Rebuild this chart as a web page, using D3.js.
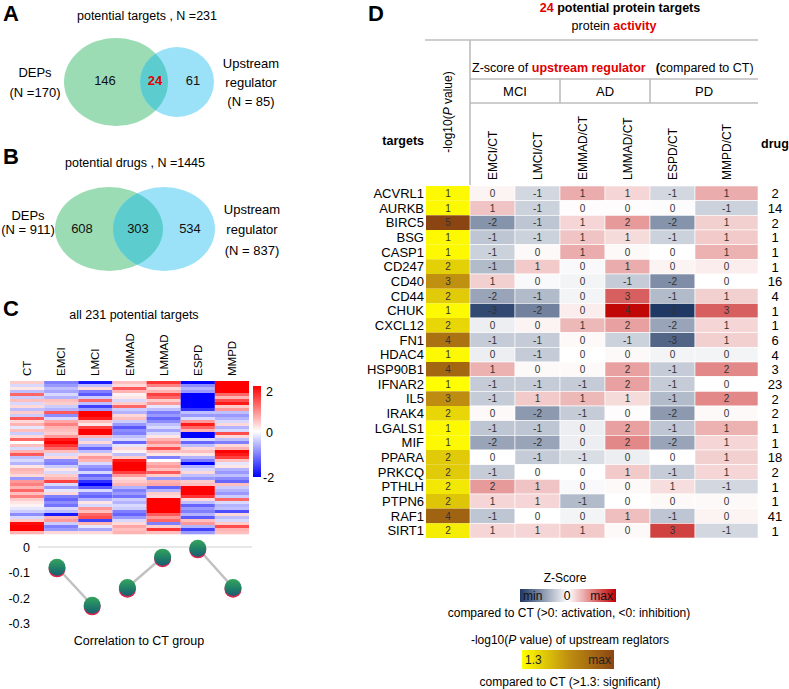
<!DOCTYPE html>
<html>
<head>
<meta charset="utf-8">
<script src="https://cdnjs.cloudflare.com/ajax/libs/d3/7.8.5/d3.min.js"></script>
<style>
  body { margin: 0; background: #fff; }
  svg { font-family: "Liberation Sans", Arial, Helvetica, sans-serif; }
</style>
</head>
<body>
<svg id="chart" width="789" height="689"></svg>
<script>
// ---------- data ----------
const targetVenn = [146, 24, 61];      // DEPs only, shared, upstream only
const targetVennN = [231, 170, 85];    // total, DEPs, upstream regulator
const drugVenn = [608, 303, 534];
const drugVennN = [1445, 911, 837];

const heatGroups = ['CT', 'EMCI', 'LMCI', 'EMMAD', 'LMMAD', 'ESPD', 'MMPD'];
// 231 targets drawn as 51 row bands, z-score per band
const heatCT = [0.4, -0.3, 0.2, -0.5, 1.2, -0.4, 0.5, -0.3, 0.3, -0.5, 0.4, -0.4, 1.3, 0.3, 0.6, -0.2, 0.5,
  -0.4, 0.3, 1.2, 0.0, 0.5, -0.3, 0.6, 1.3, -0.5, -0.3, -0.6, 0.2, 0.6, 0.5, 0.3, -0.8, 0.8,
  1.0, 0.6, 1.2, 0.5, 1.0, 0.4, 0.2, 0.1, -0.2, -0.4, -0.9, -0.3, 0.4, 1.9, 2.2, 2.0, 0.6];
const heatEMCI = [-1.0, -0.8, -0.5, -0.7, -0.3, -0.6, 0.5, 0.4, -0.4, -0.6, 1.3, -0.9, -0.3, 0.7, 1.0, 0.6, 0.5,
  0.4, 0.8, 1.8, 2.0, 1.6, 1.2, 0.5, -0.3, 0.3, -0.9, -1.0, -0.4, 0.2, -0.3, 0.4, 0.6, 1.5,
  -0.3, -0.8, -0.2, 0.3, -1.0, -1.2, -0.9, -1.1, -0.3, -0.5, -1.8, 0.6, 0.8, -0.4, -1.0, -0.8, 0.3];
const heatLMCI = [-1.8, -0.5, 0.3, -1.0, -1.3, -0.4, 1.2, -0.5, -1.5, -0.8, 2.2, 2.3, 1.8, 0.5, 0.2, 1.5, 2.0,
  2.3, 0.6, -0.4, 0.3, -0.6, -1.2, -0.5, 0.3, 0.8, 0.6, -0.3, -0.8, -1.0, -0.3, -1.2, -0.9, -1.6,
  -2.0, -1.3, -0.3, -1.0, -1.2, -0.6, 0.2, -0.3, 0.8, 0.5, 1.2, 1.4, -1.5, 0.6, -0.2, -0.7, 0.3];
const heatEMMAD = [0.5, 0.3, 1.3, 0.6, 0.1, 0.2, -0.3, 0.4, 1.2, -0.4, -0.6, 0.3, 0.5, -0.4, -0.8, -1.3, -0.9,
  -1.0, -0.5, -0.3, -1.2, -0.2, 0.3, 0.1, -0.5, 0.4, 1.8, 2.2, 2.0, 2.3, 1.5, 0.8, 0.3, 0.4,
  0.6, -0.6, -1.0, -0.8, -1.1, -0.4, -0.6, -0.3, -0.4, -1.0, -1.2, -0.8, -0.3, 0.3, 0.7, 0.5, 0.6];
const heatLMMAD = [1.6, 1.0, 0.3, 0.6, 1.5, 1.2, 0.4, 0.8, -0.2, -0.5, -1.0, -0.8, -1.2, -0.9, -0.5, -0.3, -0.7,
  -0.3, 0.2, 0.6, 0.9, 0.5, 1.4, 0.5, 0.2, -1.0, 0.0, 0.6, 0.8, 0.5, 1.3, 0.4, -0.8, 0.6,
  0.7, -1.2, -0.6, 0.4, 0.3, 2.2, 2.4, 2.3, 2.2, 2.0, 1.3, 0.8, 1.2, -1.0, 0.4, 1.6, 0.5];
const heatESPD = [-2.2, -0.9, -0.6, -0.8, -2.0, -2.4, -2.2, -2.5, -2.3, -1.6, -0.5, -0.8, -0.3, 0.8, 1.8, 1.2, 0.6,
  -2.4, -2.2, -0.3, -1.2, -0.5, 0.3, 0.5, 0.2, -0.6, -1.0, -2.5, -0.6, -0.3, 0.3, -0.5, -0.8, 0.4,
  0.5, 2.0, 2.3, 2.2, 1.6, 0.3, -0.5, -1.2, -0.8, -1.0, -0.6, -1.3, 0.5, 0.8, -0.6, -1.5, -0.8];
const heatMMPD = [2.3, 2.5, 2.4, 2.0, 1.2, 0.6, 1.4, 1.8, 0.4, 0.8, -0.5, -0.8, -0.6, -0.3, 0.3, -0.6, -0.3,
  1.4, 0.3, -0.5, -1.0, 0.3, 0.6, 2.0, 1.8, 1.5, 0.5, -0.2, 0.2, -0.6, -0.8, -0.5, -0.9, -1.2,
  0.5, -0.4, -0.6, -0.8, -0.4, 1.2, -0.3, -0.6, -0.5, -1.4, 0.3, -0.5, -0.3, 0.4, 1.4, 0.6, 0.5];
const heatColumns = [heatCT, heatEMCI, heatLMCI, heatEMMAD, heatLMMAD, heatESPD, heatMMPD];

const corrGroups = ['EMCI', 'LMCI', 'EMMAD', 'LMMAD', 'ESPD', 'MMPD'];
const corrValues = [-0.08, -0.23, -0.16, -0.04, -0.005, -0.16];
const corrTicks = [0, -0.1, -0.2, -0.3];

const targets = ['ACVRL1', 'AURKB', 'BIRC5', 'BSG', 'CASP1', 'CD247', 'CD40', 'CD44', 'CHUK', 'CXCL12',
  'FN1', 'HDAC4', 'HSP90B1', 'IFNAR2', 'IL5', 'IRAK4', 'LGALS1', 'MIF', 'PPARA', 'PRKCQ', 'PTHLH',
  'PTPN6', 'RAF1', 'SIRT1'];
const pValues = [1.4, 1.4, 5.2, 1.4, 1.4, 2.1, 3.2, 2.2, 1.4, 2.0, 4.0, 1.4, 4.3, 1.3, 3.3, 2.0, 1.4, 1.4,
  2.2, 2.2, 1.7, 2.3, 4.4, 1.6];
const drugCounts = [2, 14, 2, 1, 1, 1, 16, 4, 1, 1, 6, 4, 3, 23, 2, 2, 1, 1, 18, 2, 1, 1, 41, 1];
const zCols = ['EMCI/CT', 'LMCI/CT', 'EMMAD/CT', 'LMMAD/CT', 'ESPD/CT', 'MMPD/CT'];
const zGroups = ['MCI', 'AD', 'PD'];
const zEMCI = [0.2, 1.0, -1.9, -1.0, -0.8, -1.2, 0.8, -1.6, -3.2, -0.3, -0.9, -0.3, 1.3, -0.9, -0.9, 0.1,
  -1.0, -1.6, 0.0, -0.9, 1.7, 0.7, -1.0, 0.7];
const zLMCI = [-0.7, -0.8, -1.0, -0.8, 0.1, 0.9, -0.1, -1.2, -2.2, 0.2, -0.9, -0.9, 0.1, -0.9, 0.9, -1.8,
  -1.0, -1.6, -0.9, 0.0, 1.0, 0.7, 0.0, 0.7];
const zEMMAD = [1.4, 0.05, 0.7, 1.0, 1.4, -0.1, -0.2, -0.2, 0.3, 1.2, 0.1, 0.0, 0.1, -0.9, 1.2, -0.9,
  -0.3, -0.3, -0.6, 0.0, -0.1, -1.2, -0.2, 0.9];
const zLMMAD = [0.7, 0.05, 1.7, 0.6, 0.1, 1.4, -0.9, 2.7, 4.2, 1.6, -0.8, 0.1, 1.6, 1.6, 0.6, 0.05,
  1.6, 2.0, -0.3, 0.9, 0.1, 0.0, 1.1, 0.1];
const zESPD = [-0.7, -0.05, -1.9, -0.8, 0.0, 0.2, -2.0, -1.2, -3.5, -1.6, -2.7, -0.2, -0.9, -0.9, -1.2, -1.8,
  -1.0, -1.6, 0.0, -0.9, 0.55, 0.1, -1.0, 3.2];
const zMMPD = [1.4, -0.8, 0.8, 0.9, 1.3, 0.3, 0.0, 0.8, 2.7, 0.7, 0.8, -0.2, 2.0, 0.0, 2.0, 0.1,
  1.3, 0.7, 0.8, 0.7, -0.7, 0.1, 0.2, -0.7];
const zColumns = [zEMCI, zLMCI, zEMMAD, zLMMAD, zESPD, zMMPD];

// ---------- drawing ----------
const svg = d3.select('#chart');
const defs = svg.append('defs');
const RED = '#e00000';

function panelLetter(x, y, t) {
  svg.append('text').attr('x', x).attr('y', y)
    .style('font-size', '22px').style('font-weight', 'bold').text(t);
}

// ===== A and B : Venn diagrams =====
function venn(id, cfg, counts, totals, title, highlight) {
  const g = svg.append('g');
  g.append('text').attr('x', cfg.titleX).attr('y', cfg.titleY).attr('text-anchor', 'middle')
    .style('font-size', '12.5px').text(`${title} , N =${totals[0]}`);

  defs.append('clipPath').attr('id', 'clip' + id)
    .append('ellipse').attr('cx', cfg.l[0]).attr('cy', cfg.l[1]).attr('rx', cfg.l[2]).attr('ry', cfg.l[3]);

  g.append('ellipse').attr('cx', cfg.l[0]).attr('cy', cfg.l[1]).attr('rx', cfg.l[2]).attr('ry', cfg.l[3])
    .attr('fill', '#9cdcb4');
  g.append('ellipse').attr('cx', cfg.r[0]).attr('cy', cfg.r[1]).attr('rx', cfg.r[2]).attr('ry', cfg.r[3])
    .attr('fill', '#9be2f9');
  g.append('ellipse').attr('cx', cfg.r[0]).attr('cy', cfg.r[1]).attr('rx', cfg.r[2]).attr('ry', cfg.r[3])
    .attr('fill', '#5ccccf').attr('clip-path', `url(#clip${id})`);

  g.selectAll('text.num').data(counts).join('text').attr('class', 'num')
    .attr('x', (d, i) => cfg.numX[i]).attr('y', cfg.numY).attr('text-anchor', 'middle')
    .style('font-size', '13px')
    .style('font-weight', (d, i) => i === 1 && highlight ? 'bold' : null)
    .attr('fill', (d, i) => i === 1 && highlight ? RED : '#111')
    .text(d => d);

  g.append('text').attr('x', cfg.leftX).attr('y', cfg.leftY[0]).attr('text-anchor', 'middle')
    .style('font-size', '13px').text('DEPs');
  g.append('text').attr('x', cfg.leftX).attr('y', cfg.leftY[1]).attr('text-anchor', 'middle')
    .style('font-size', '13px').text(cfg.leftN(totals[1]));

  ['Upstream', 'regulator', `(N = ${totals[2]})`].forEach((t, i) => {
    g.append('text').attr('x', cfg.rightX).attr('y', cfg.rightY[i]).attr('text-anchor', 'middle')
      .style('font-size', '13px').text(t);
  });
}

panelLetter(3, 21, 'A');
venn('A', {
  titleX: 147, titleY: 20,
  l: [116, 82, 52, 44], r: [177, 82, 37, 35],
  numX: [105, 155, 193], numY: 85,
  leftX: 35, leftY: [77, 97], leftN: n => `(N =${n})`,
  rightX: 251, rightY: [68, 87, 106]
}, targetVenn, targetVennN, 'potential targets', true);

panelLetter(3, 164, 'B');
venn('B', {
  titleX: 135, titleY: 167,
  l: [109, 229, 54, 42], r: [164, 229, 51, 42],
  numX: [82, 138, 190], numY: 233,
  leftX: 28, leftY: [220, 234], leftN: n => `(N = ${n})`,
  rightX: 252, rightY: [214, 234, 255]
}, drugVenn, drugVennN, 'potential drugs', false);

// ===== C : heatmap + correlation =====
panelLetter(3, 316, 'C');
svg.append('text').attr('x', 134).attr('y', 319).attr('text-anchor', 'middle')
  .style('font-size', '12.5px').text('all 231 potential targets');

const hx = d3.scaleBand().domain(heatGroups).range([10, 249]);
const hy = d3.scaleBand().domain(d3.range(heatCT.length)).range([381, 534]);
const heatColor = d3.scaleLinear().domain([-2, 0, 2]).range(['#0000ff', '#ffffff', '#ff0000']).clamp(true);

const heat = svg.append('g');
heatGroups.forEach((grp, ci) => {
  heat.selectAll(null).data(heatColumns[ci]).join('rect')
    .attr('x', hx(grp)).attr('width', hx.bandwidth())
    .attr('y', (d, i) => hy(i)).attr('height', hy.bandwidth() + 0.3)
    .attr('fill', d => heatColor(d));
});

svg.selectAll('text.hcol').data(heatGroups).join('text').attr('class', 'hcol')
  .attr('transform', d => `translate(${hx(d) + hx.bandwidth() / 2 + 4},376) rotate(-90)`)
  .style('font-size', '11.5px').text(d => d);

// colour key
const hg = defs.append('linearGradient').attr('id', 'heatKey').attr('x1', 0).attr('x2', 0).attr('y1', 0).attr('y2', 1);
hg.selectAll('stop').data([['0%', '#ff0000'], ['50%', '#ffffff'], ['100%', '#0000ff']]).join('stop')
  .attr('offset', d => d[0]).attr('stop-color', d => d[1]);
const keyY = d3.scaleLinear().domain([2, -2]).range([386, 477]);
svg.append('rect').attr('x', 253).attr('y', keyY(2)).attr('width', 8).attr('height', keyY(-2) - keyY(2))
  .attr('fill', 'url(#heatKey)');
svg.selectAll('text.hkey').data([2, 0, -2]).join('text').attr('class', 'hkey')
  .attr('x', d => d < 0 ? 263 : 266).attr('y', d => Math.min(Math.max(keyY(d), 391), 477) + 5)
  .style('font-size', '12.5px').text(d => d);

// correlation dots
const cx = d3.scalePoint().domain(corrGroups).range([57, 233]);
const cy = d3.scaleLinear().domain([-0.3, 0]).range([623, 547]);
const corr = svg.append('g');
corr.append('line').attr('x1', 38).attr('x2', 252).attr('y1', cy(0)).attr('y2', cy(0))
  .attr('stroke', '#cfcfcf').attr('stroke-width', 1.2);
corr.selectAll('text.tick').data(corrTicks).join('text').attr('class', 'tick')
  .attr('x', 30).attr('y', d => cy(d) + 5).attr('text-anchor', 'end')
  .style('font-size', '12.5px').text(d => d);

const pairs = d3.range(0, corrGroups.length, 2);
corr.selectAll('line.pair').data(pairs).join('line').attr('class', 'pair')
  .attr('x1', i => cx(corrGroups[i])).attr('y1', i => cy(corrValues[i]))
  .attr('x2', i => cx(corrGroups[i + 1])).attr('y2', i => cy(corrValues[i + 1]))
  .attr('stroke', '#c0c0c0').attr('stroke-width', 2.5);

const dg = defs.append('linearGradient').attr('id', 'dotGrad').attr('x1', 0).attr('x2', 0).attr('y1', 0).attr('y2', 1);
dg.selectAll('stop').data([['0%', '#36a35c'], ['55%', '#1f7f68'], ['100%', '#1b5c72']]).join('stop')
  .attr('offset', d => d[0]).attr('stop-color', d => d[1]);
corr.selectAll('circle.shadow').data(corrValues).join('circle').attr('class', 'shadow')
  .attr('cx', (d, i) => cx(corrGroups[i])).attr('cy', d => cy(d) + 1.6).attr('r', 8.5)
  .attr('fill', '#d8264a');
corr.selectAll('circle.dot').data(corrValues).join('circle').attr('class', 'dot')
  .attr('cx', (d, i) => cx(corrGroups[i])).attr('cy', d => cy(d)).attr('r', 8.5)
  .attr('fill', 'url(#dotGrad)');
svg.append('text').attr('x', 139).attr('y', 645).attr('text-anchor', 'middle')
  .style('font-size', '12.5px').text('Correlation to CT group');

// ===== D : table of protein targets =====
panelLetter(368, 21, 'D');
const title = svg.append('text').attr('x', 620).attr('y', 12).attr('text-anchor', 'middle')
  .style('font-size', '12.5px').style('font-weight', 'bold');
title.append('tspan').attr('fill', RED).text(targets.length);
title.append('tspan').text(' potential protein targets');
const sub = svg.append('text').attr('x', 614).attr('y', 30).attr('text-anchor', 'middle').style('font-size', '12.5px');
sub.append('tspan').text('protein ');
sub.append('tspan').attr('fill', RED).style('font-weight', 'bold').text('activity');

const pX = [426, 470];
const tableRight = 758;
const zx = d3.scaleBand().domain(zCols.slice(0, 5)).range([470, 695]);
const colX = c => zCols.indexOf(c) < 5 ? zx(c) : zx.range()[1];
const colW = c => zCols.indexOf(c) < 5 ? zx.bandwidth() : tableRight - zx.range()[1];
const ry = d3.scaleBand().domain(targets).range([186, 538]);

const zColor = d3.scaleLinear().domain([-3.5, 0, 4.3]).range(['#1f3864', '#ffffff', '#c00000']).clamp(true);
const pColor = d3.scaleLinear().domain([1.3, 3.2, 5.2]).range(['#ffff00', '#c09010', '#8b4513']).clamp(true);

// header lines
const hdr = svg.append('g').attr('stroke', '#bdbdbd').attr('stroke-width', 1.6);
hdr.append('line').attr('x1', pX[0] - 1).attr('x2', tableRight).attr('y1', 40).attr('y2', 40);
hdr.append('line').attr('x1', pX[1]).attr('x2', pX[1]).attr('y1', 40).attr('y2', 185);
hdr.append('line').attr('x1', pX[1]).attr('x2', tableRight).attr('y1', 79).attr('y2', 79);
hdr.append('line').attr('x1', pX[1]).attr('x2', tableRight).attr('y1', 103).attr('y2', 103);
hdr.selectAll('line.sep').data([zCols[2], zCols[4]]).join('line').attr('class', 'sep')
  .attr('x1', c => colX(c)).attr('x2', c => colX(c)).attr('y1', 79).attr('y2', 103);

const zt = svg.append('text').attr('x', 472).attr('y', 72).style('font-size', '12.5px');
zt.append('tspan').text('Z-score of ');
zt.append('tspan').attr('fill', RED).style('font-weight', 'bold').text('upstream regulator');
zt.append('tspan').attr('dx', 10).style('font-weight', 'bold').text('(');
zt.append('tspan').text('compared to CT)');

svg.selectAll('text.grp').data(zGroups).join('text').attr('class', 'grp')
  .attr('x', (d, i) => (colX(zCols[2 * i]) + colX(zCols[2 * i + 1]) + colW(zCols[2 * i + 1])) / 2)
  .attr('y', 96).attr('text-anchor', 'middle').style('font-size', '13px').text(d => d);

svg.selectAll('text.zcol').data(zCols).join('text').attr('class', 'zcol')
  .attr('transform', c => `translate(${colX(c) + colW(c) / 2 + 4.5},180) rotate(-90)`)
  .style('font-size', '12px').text(d => d);

const pl = svg.append('text').attr('transform', `translate(${(pX[0] + pX[1]) / 2 + 4},112) rotate(-90)`)
  .attr('text-anchor', 'middle').style('font-size', '12px');
pl.append('tspan').text('-log10(');
pl.append('tspan').style('font-style', 'italic').text('P');
pl.append('tspan').text(' value)');

svg.append('text').attr('x', 424).attr('y', 145).attr('text-anchor', 'end')
  .style('font-size', '12.5px').style('font-weight', 'bold').text('targets');
svg.append('text').attr('x', 775).attr('y', 148).attr('text-anchor', 'middle')
  .style('font-size', '12.5px').style('font-weight', 'bold').text('drug');

// body
const body = svg.append('g');
body.selectAll('text.row').data(targets).join('text').attr('class', 'row')
  .attr('x', 424).attr('y', d => ry(d) + ry.bandwidth() / 2 + 4.5).attr('text-anchor', 'end')
  .style('font-size', '13px').text(d => d);

body.selectAll('rect.p').data(pValues).join('rect').attr('class', 'p')
  .attr('x', pX[0]).attr('width', pX[1] - pX[0])
  .attr('y', (d, i) => ry(targets[i])).attr('height', ry.bandwidth())
  .attr('fill', d => pColor(d));
body.selectAll('text.p').data(pValues).join('text').attr('class', 'p')
  .attr('x', (pX[0] + pX[1]) / 2).attr('y', (d, i) => ry(targets[i]) + ry.bandwidth() / 2 + 3.5)
  .attr('text-anchor', 'middle').style('font-size', '10px').attr('fill', '#333')
  .text(d => `${Math.round(d)}`);

zCols.forEach((c, ci) => {
  const col = body.append('g');
  col.selectAll('rect').data(zColumns[ci]).join('rect')
    .attr('x', colX(c)).attr('width', colW(c))
    .attr('y', (d, i) => ry(targets[i])).attr('height', ry.bandwidth())
    .attr('fill', d => zColor(d)).attr('stroke', '#fff').attr('stroke-width', 0.6);
  col.selectAll('text').data(zColumns[ci]).join('text')
    .attr('x', colX(c) + colW(c) / 2).attr('y', (d, i) => ry(targets[i]) + ry.bandwidth() / 2 + 3.5)
    .attr('text-anchor', 'middle').style('font-size', '10px').attr('fill', '#333')
    .text(d => `${Math.round(d)}`);
});

body.selectAll('text.drug').data(drugCounts).join('text').attr('class', 'drug')
  .attr('x', 775).attr('y', (d, i) => ry(targets[i]) + ry.bandwidth() / 2 + 5)
  .attr('text-anchor', 'middle').style('font-size', '13px').text(d => d);

// legends
const lg = svg.append('g');
lg.append('text').attr('x', 565).attr('y', 582).attr('text-anchor', 'middle').style('font-size', '12px').text('Z-Score');
const zg = defs.append('linearGradient').attr('id', 'zKey');
zg.selectAll('stop').data([['0%', '#1f3864'], ['50%', '#ffffff'], ['100%', '#c00000']]).join('stop')
  .attr('offset', d => d[0]).attr('stop-color', d => d[1]);
lg.append('rect').attr('x', 520).attr('y', 589).attr('width', 96).attr('height', 13).attr('fill', 'url(#zKey)');
lg.append('text').attr('x', 523).attr('y', 600).style('font-size', '12px').attr('fill', '#111').text('min');
lg.append('text').attr('x', 567).attr('y', 600).attr('text-anchor', 'middle').style('font-size', '12px').text('0');
lg.append('text').attr('x', 613).attr('y', 600).attr('text-anchor', 'end').style('font-size', '12px').attr('fill', '#111').text('max');
lg.append('text').attr('x', 569).attr('y', 617).attr('text-anchor', 'middle').style('font-size', '12px')
  .text('compared to CT (>0: activation, <0: inhibition)');

const pt = lg.append('text').attr('x', 570).attr('y', 644).attr('text-anchor', 'middle').style('font-size', '12px');
pt.append('tspan').text('-log10(');
pt.append('tspan').style('font-style', 'italic').text('P');
pt.append('tspan').text(' value) of upstream reglators');
const pg = defs.append('linearGradient').attr('id', 'pKey');
pg.selectAll('stop').data([['0%', '#ffff00'], ['50%', '#c09010'], ['100%', '#8b4513']]).join('stop')
  .attr('offset', d => d[0]).attr('stop-color', d => d[1]);
lg.append('rect').attr('x', 522).attr('y', 650).attr('width', 92).attr('height', 19).attr('fill', 'url(#pKey)');
lg.append('text').attr('x', 525).attr('y', 664).style('font-size', '12px').attr('fill', '#222').text('1.3');
lg.append('text').attr('x', 611).attr('y', 664).attr('text-anchor', 'end').style('font-size', '12px').attr('fill', '#222').text('max');
lg.append('text').attr('x', 570).attr('y', 686).attr('text-anchor', 'middle').style('font-size', '12px')
  .text('compared to CT (>1.3: significant)');
</script>
</body>
</html>
